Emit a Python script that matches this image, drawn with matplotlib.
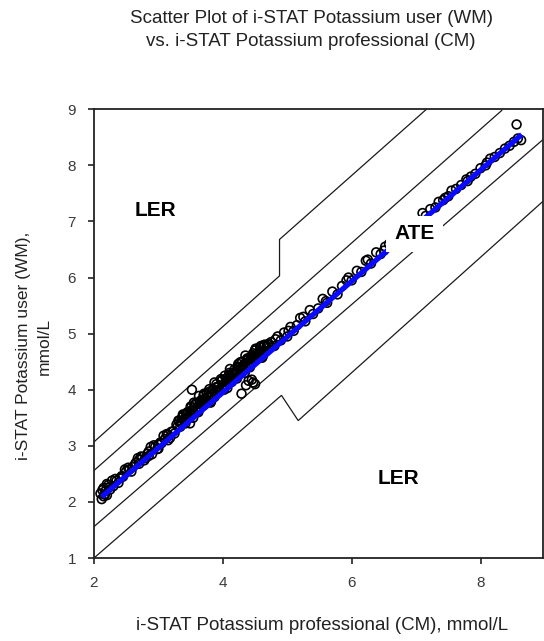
import matplotlib
matplotlib.use("Agg")
import matplotlib.pyplot as plt

plt.rcParams['font.family'] = ['Liberation Sans', 'DejaVu Sans']

# ---- data ----
title_text = "Scatter Plot of i-STAT Potassium user (WM)\nvs. i-STAT Potassium professional (CM)"
xlabel_text = "i-STAT Potassium professional (CM), mmol/L"
ylabel_text = "i-STAT Potassium user (WM),\nmmol/L"
x_ticks = [2, 4, 6, 8]
y_ticks = [1, 2, 3, 4, 5, 6, 7, 8, 9]

# scatter: professional (CM) vs user (WM)
cm_low = [2.10, 2.12, 2.15, 2.18, 2.20, 2.22, 2.25, 2.30, 2.35, 2.40, 2.45, 2.50, 2.15, 2.20,
          2.55, 2.60, 2.65, 2.70, 2.75, 2.80, 2.85, 2.90, 2.95, 3.00, 3.05, 3.10, 3.15, 3.20,
          3.25, 3.30, 2.70, 2.85, 3.00, 3.15]
wm_low = [2.15, 2.05, 2.25, 2.20, 2.12, 2.30, 2.22, 2.28, 2.38, 2.42, 2.45, 2.55, 2.10, 2.32,
          2.58, 2.62, 2.70, 2.68, 2.80, 2.78, 2.90, 2.85, 2.98, 3.02, 3.05, 3.12, 3.10, 3.25,
          3.22, 3.35, 2.75, 2.82, 2.95, 3.20]
cm_low_b = [2.13, 2.17, 2.23, 2.28, 2.33, 2.38, 2.43, 2.48, 2.53, 2.58, 2.63, 2.68, 2.73, 2.78,
            2.83, 2.88, 2.93, 2.98, 3.03, 3.08, 3.13, 3.18, 3.23, 3.28]
wm_low_b = [2.21, 2.13, 2.26, 2.38, 2.41, 2.34, 2.46, 2.58, 2.61, 2.54, 2.66, 2.78, 2.81, 2.74,
            2.86, 2.98, 3.01, 2.94, 3.06, 3.18, 3.21, 3.14, 3.26, 3.38]

cm_dense_a = [3.32, 3.35, 3.38, 3.40, 3.42, 3.45, 3.48, 3.50, 3.52, 3.55, 3.58, 3.60, 3.62, 3.65,
              3.68, 3.70, 3.72, 3.75, 3.78, 3.80, 3.82, 3.85, 3.88, 3.90, 3.92, 3.95, 3.98, 4.00,
              4.02, 4.05, 4.08, 4.10, 4.12, 4.15, 4.18, 4.20, 4.22, 4.25, 4.28, 4.30, 4.32, 4.35,
              4.38, 4.40, 4.42, 4.45, 4.48, 4.50, 4.52, 4.55, 4.58, 4.60, 4.62, 4.65, 4.68, 4.70]
wm_dense_a = [3.44, 3.40, 3.56, 3.48, 3.40, 3.60, 3.58, 3.70, 3.64, 3.60, 3.76, 3.68, 3.60, 3.80,
              3.78, 3.90, 3.84, 3.80, 3.96, 3.88, 3.80, 4.00, 3.98, 4.10, 4.04, 4.00, 4.16, 4.08,
              4.00, 4.20, 4.18, 4.30, 4.24, 4.20, 4.36, 4.28, 4.20, 4.40, 4.38, 4.50, 4.44, 4.40,
              4.56, 4.48, 4.40, 4.60, 4.58, 4.70, 4.64, 4.60, 4.76, 4.68, 4.60, 4.80, 4.78, 4.80]

cm_dense_b = [3.34, 3.37, 3.41, 3.44, 3.47, 3.51, 3.54, 3.57, 3.61, 3.64, 3.67, 3.71, 3.74, 3.77,
              3.81, 3.84, 3.87, 3.91, 3.94, 3.97, 4.01, 4.04, 4.07, 4.11, 4.14, 4.17, 4.21, 4.24,
              4.27, 4.31, 4.34, 4.37, 4.41, 4.44, 4.47, 4.51, 4.54, 4.57, 4.61, 4.64]
wm_dense_b = [3.34, 3.51, 3.47, 3.58, 3.50, 3.61, 3.50, 3.73, 3.61, 3.78, 3.73, 3.93, 3.77, 3.87,
              3.77, 4.00, 3.87, 4.05, 4.00, 4.19, 4.04, 4.14, 4.03, 4.27, 4.14, 4.31, 4.27, 4.46,
              4.30, 4.41, 4.30, 4.53, 4.41, 4.58, 4.53, 4.73, 4.57, 4.67, 4.57, 4.80]

cm_dense_c = [3.31, 3.35, 3.39, 3.43, 3.47, 3.51, 3.55, 3.59, 3.63, 3.67, 3.71, 3.75, 3.79, 3.83,
              3.87, 3.91, 3.95, 3.99, 4.03, 4.07, 4.11, 4.15, 4.19, 4.23, 4.27, 4.31, 4.35, 4.39,
              4.43, 4.47, 4.51, 4.55, 4.59, 4.63, 4.67, 4.71]
wm_dense_c = [3.45, 3.43, 3.55, 3.57, 3.49, 3.69, 3.77, 3.67, 3.89, 3.81, 3.73, 3.93, 4.01, 3.91,
              4.13, 4.05, 3.97, 4.17, 4.25, 4.15, 4.37, 4.29, 4.21, 4.41, 4.49, 4.39, 4.61, 4.53,
              4.45, 4.65, 4.73, 4.63, 4.78, 4.77, 4.69, 4.82]

cm_outl = [3.52, 4.29, 4.40, 4.47, 4.36, 4.50, 4.45, 3.49]
wm_outl = [4.00, 3.93, 4.16, 4.13, 4.08, 4.10, 4.18, 3.40]

cm_mid = [4.75, 4.80, 4.85, 4.90, 4.95, 5.00, 5.05, 5.10, 5.15, 5.20, 5.28, 5.35, 5.40, 5.48,
          5.55, 5.62, 5.70, 5.78, 5.85, 5.92, 6.00, 6.08, 6.15, 6.22, 6.30, 6.38, 6.45, 6.52,
          6.58, 4.82, 5.02, 5.25, 5.60, 5.95, 6.25, 6.50]
wm_mid = [4.85, 4.78, 4.95, 4.88, 5.02, 4.95, 5.12, 5.05, 5.15, 5.28, 5.22, 5.42, 5.35, 5.45,
          5.62, 5.55, 5.75, 5.70, 5.85, 5.95, 5.95, 6.12, 6.10, 6.30, 6.25, 6.45, 6.42, 6.55,
          6.60, 4.90, 5.05, 5.30, 5.58, 6.00, 6.32, 6.48]

cm_high = [7.10, 7.15, 7.22, 7.30, 7.35, 7.42, 7.50, 7.55, 7.62, 7.70, 7.78, 7.85, 7.92, 8.00,
           8.08, 8.15, 8.22, 8.30, 8.38, 8.45, 8.52, 8.58, 8.56, 7.45, 7.80, 8.10, 8.63]
wm_high = [7.15, 7.10, 7.22, 7.25, 7.35, 7.38, 7.45, 7.55, 7.58, 7.65, 7.75, 7.80, 7.85, 7.95,
           8.00, 8.12, 8.15, 8.22, 8.30, 8.35, 8.42, 8.48, 8.73, 7.42, 7.72, 8.05, 8.45]

# regression line (blue)
reg_x = [2.12, 8.64]
reg_y = [2.09, 8.55]

# error-grid boundaries
ate_upper_x = [2.0, 8.33]
ate_upper_y = [2.56, 8.98]
ate_lower_x = [2.0, 8.97]
ate_lower_y = [1.56, 8.46]
ler_upper_x = [2.0, 4.88, 4.88, 7.16]
ler_upper_y = [3.07, 6.03, 6.68, 9.0]
ler_lower_x = [2.0, 4.91, 5.17, 8.97]
ler_lower_y = [1.0, 3.90, 3.45, 7.36]

zone_labels = ["LER", "ATE", "LER"]
zone_x = [2.95, 6.98, 6.72]
zone_y = [7.19, 6.78, 2.42]

# ---- figure ----
W, H = 544, 641
fig = plt.figure(figsize=(W / 100, H / 100), dpi=100)
ax = fig.add_axes([94 / W, (H - 558) / H, (543 - 94) / W, (558 - 109.3) / H])

for xs, ys in [(ate_upper_x, ate_upper_y), (ate_lower_x, ate_lower_y),
               (ler_upper_x, ler_upper_y), (ler_lower_x, ler_lower_y)]:
    ax.plot(xs, ys, color='#1a1a1a', lw=0.9, zorder=2, solid_joinstyle='miter')

all_cm = cm_low + cm_low_b + cm_dense_a + cm_dense_b + cm_dense_c + cm_outl + cm_mid + cm_high
all_wm = wm_low + wm_low_b + wm_dense_a + wm_dense_b + wm_dense_c + wm_outl + wm_mid + wm_high
ax.scatter(all_cm, all_wm, s=40, facecolors='none', edgecolors='black',
           linewidths=1.2, zorder=3)

ax.plot(reg_x, reg_y, color='#0a0aff', lw=3.8, zorder=4, solid_capstyle='butt')

for lab, tx, ty in zip(zone_labels, zone_x, zone_y):
    kw = dict(ha='center', va='center', fontsize=15, fontweight='bold', color='black', zorder=6)
    if lab == "ATE":
        kw['bbox'] = dict(boxstyle='square,pad=0.4', fc='white', ec='none')
    ax.text(tx, ty, lab, **kw)

ax.set_xlim(2, 8.97)
ax.set_ylim(1, 9)
ax.set_xticks(x_ticks)
ax.set_yticks(y_ticks)
ax.tick_params(direction='out', length=4, width=1.2, labelsize=11,
               labelcolor='#3a3a3a', color='#222222')
ax.tick_params(axis='y', pad=9)
ax.tick_params(axis='x', pad=9)
for sp in ax.spines.values():
    sp.set_linewidth(1.3)
    sp.set_color('#222222')

fig.text(311 / W, 1 - 30 / H, title_text, ha='center', va='center',
         fontsize=13.5, color='#222222', linespacing=1.45)
fig.text(322 / W, 1 - 625 / H, xlabel_text, ha='center', va='center',
         fontsize=13.5, color='#222222')
fig.text(34 / W, 1 - 346 / H, ylabel_text, ha='center', va='center', rotation=90,
         fontsize=12.5, color='#222222', linespacing=1.45)

fig.savefig("out.png", dpi=100)
